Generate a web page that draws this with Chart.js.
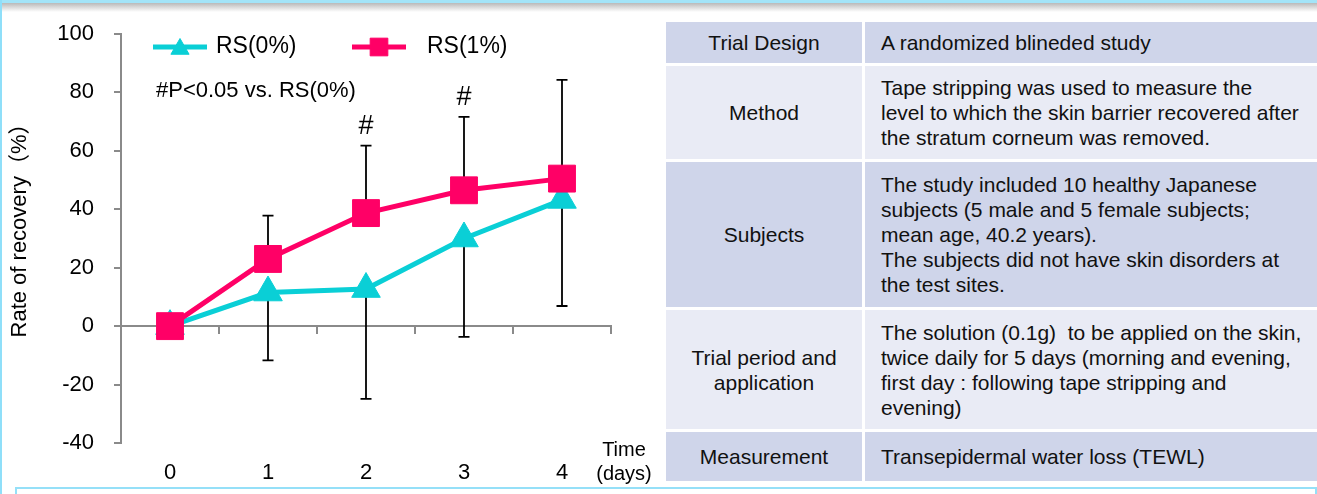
<!DOCTYPE html>
<html>
<head>
<meta charset="utf-8">
<script src="https://cdn.jsdelivr.net/npm/chart.js"></script>
<style>
  html, body { margin: 0; padding: 0; }
  body {
    width: 1317px; height: 494px; overflow: hidden; position: relative;
    background: #fff; font-family: "Liberation Sans", Arial, sans-serif;
  }
  #topband { position: absolute; left: 0; top: 0; width: 1317px; height: 3px; background: #a3e4f8; }
  #shadow { position: absolute; left: 0; top: 3px; width: 1317px; height: 9px;
            background: linear-gradient(#b9b9b9, #fff); }
  #leftline { position: absolute; left: 0; top: 0; width: 2px; height: 494px; background: #8fdff9; }
  #bottombox { position: absolute; left: 15px; top: 487px; width: 1298px; height: 20px;
               border: 2px solid #95e0f8; border-bottom: none; background: #fff; }
  #wrap { position: absolute; left: 0; top: 0; width: 660px; height: 494px; }
  #info { position: absolute; left: 663px; top: 19px; width: 675px; table-layout: fixed;
          border-collapse: separate; border-spacing: 3px;
          font-size: 21px; line-height: 25px; color: #111; }
  #info td { padding: 0; white-space: nowrap; vertical-align: middle; overflow: hidden; }
  #info col.k { width: 196px; }
  #info td.k { text-align: center; }
  #info td.v { padding-left: 16px; text-align: left; }
  #info tr.d td { background: #cfd5ea; }
  #info tr.l td { background: #e9ebf5; }
</style>
</head>
<body>
<div id="topband"></div>
<div id="shadow"></div>
<div id="leftline"></div>

<div id="wrap"><canvas id="recovery" width="660" height="494"></canvas></div>

<table id="info">
  <colgroup><col class="k"><col class="v"></colgroup>
  <tr class="d" style="height:41px"><td class="k">Trial Design</td><td class="v">A randomized blineded study</td></tr>
  <tr class="l" style="height:93px"><td class="k">Method</td><td class="v">Tape stripping was used to measure the<br>level to which the skin barrier recovered after<br>the stratum corneum was removed.</td></tr>
  <tr class="d" style="height:145px"><td class="k">Subjects</td><td class="v">The study included 10 healthy Japanese<br>subjects (5 male and 5 female subjects;<br>mean age, 40.2 years).<br>The subjects did not have skin disorders at<br>the test sites.</td></tr>
  <tr class="l" style="height:119px"><td class="k">Trial period and<br>application</td><td class="v">The solution (0.1g)&nbsp; to be applied on the skin,<br>twice daily for 5 days (morning and evening,<br>first day : following tape stripping and<br>evening)</td></tr>
  <tr class="d" style="height:49px"><td class="k">Measurement</td><td class="v">Transepidermal water loss (TEWL)</td></tr>
</table>

<div id="bottombox"></div>

<script>
// values
const days = ['0', '1', '2', '3', '4'];
const rs0 = [0, 11.5, 12.7, 30.0, 43.2];      // RS(0%)
const rs1 = [0, 23.0, 38.7, 46.5, 50.5];      // RS(1%)
const rs1ErrUp = [0, 14.8, 23.1, 25.1, 33.8];  // upper whisker of RS(1%)
const rs0ErrDown = [0, 23.2, 37.6, 33.7, 36.3]; // lower whisker of RS(0%)
const sigMarks = ['', '', '#', '#', ''];
const yMin = -40, yMax = 100, yStep = 20;

const CYAN = '#0acfd6';
const PINK = '#ff0066';
const AXIS = '#8a8a8a';
const FONT = '"Liberation Sans", Arial, sans-serif';

Chart.defaults.font.family = FONT;
Chart.defaults.color = '#000';

// whiskers and # marks, drawn under the markers
const errorBars = {
    id: 'errorBars',
    beforeDatasetsDraw(chart) {
        const { ctx, scales: { x, y } } = chart;
        ctx.save();
        ctx.strokeStyle = '#000';
        ctx.lineWidth = 1.8;
        days.forEach((d, i) => {
            const px = x.getPixelForValue(i);
            const whiskers = [
                [rs1[i], rs1[i] + rs1ErrUp[i]],
                [rs0[i], rs0[i] - rs0ErrDown[i]]
            ];
            whiskers.forEach(([from, to]) => {
                if (from === to) return;
                const y0 = y.getPixelForValue(from);
                const y1 = y.getPixelForValue(to);
                ctx.beginPath();
                ctx.moveTo(px, y0);
                ctx.lineTo(px, y1);
                ctx.moveTo(px - 5.5, y1);
                ctx.lineTo(px + 5.5, y1);
                ctx.stroke();
            });
            if (sigMarks[i]) {
                ctx.fillStyle = '#000';
                ctx.font = '27px ' + FONT;
                ctx.textAlign = 'center';
                ctx.textBaseline = 'alphabetic';
                ctx.fillText(sigMarks[i], px, y.getPixelForValue(rs1[i] + rs1ErrUp[i]) - 12);
            }
        });
        ctx.restore();
    }
};

// legend, note, axis titles
const extras = {
    id: 'extras',
    afterDraw(chart) {
        const { ctx, chartArea: area } = chart;
        ctx.save();

        // legend: line + marker + label
        const items = [
            { x: area.left + 32, tx: area.left + 95 },
            { x: area.left + 231, tx: area.left + 306 }
        ];
        chart.data.datasets.forEach((ds, i) => {
            const it = items[i];
            const ly = 47;
            ctx.strokeStyle = ds.borderColor;
            ctx.fillStyle = ds.backgroundColor;
            ctx.lineWidth = 5;
            ctx.beginPath();
            ctx.moveTo(it.x, ly);
            ctx.lineTo(it.x + 54, ly);
            ctx.stroke();
            ctx.lineWidth = 1;
            Chart.helpers.drawPoint(ctx, {
                pointStyle: ds.pointStyle,
                rotation: 0,
                radius: ds.pointStyle === 'rect' ? 12.5 : 10.5,
                borderWidth: 1
            }, it.x + 27, ly + (ds.pointStyle === 'rect' ? 0 : 2));
            ctx.fillStyle = '#000';
            ctx.font = '23px ' + FONT;
            ctx.textAlign = 'left';
            ctx.textBaseline = 'middle';
            ctx.fillText(ds.label, it.tx, ly);
        });

        // significance note
        ctx.font = '22px ' + FONT;
        ctx.textAlign = 'left';
        ctx.textBaseline = 'middle';
        ctx.fillText('#P<0.05 vs. RS(0%)', area.left + 35, 91);

        // x axis title
        ctx.font = '20px ' + FONT;
        ctx.textAlign = 'center';
        ctx.fillText('Time', area.right + 13, 450);
        ctx.fillText('(days)', area.right + 13, 474);

        // y axis title
        ctx.translate(20, 225);
        ctx.rotate(-Math.PI / 2);
        ctx.font = '22px "Liberation Sans", Arial, "Noto Sans CJK JP", sans-serif';
        ctx.textAlign = 'center';
        ctx.fillText('Rate of recovery（%）', 0, 0);
        ctx.restore();
    }
};

const ctx = document.getElementById('recovery');

const data = {
    labels: days,
    datasets: [{
        label: 'RS(0%)',
        data: rs0,
        borderColor: CYAN,
        backgroundColor: CYAN,
        borderWidth: 5,
        pointStyle: 'triangle',
        pointRadius: 16.5,
        pointBorderWidth: 1,
        order: 1
    }, {
        label: 'RS(1%)',
        data: rs1,
        borderColor: PINK,
        backgroundColor: PINK,
        borderWidth: 5,
        pointStyle: 'rect',
        pointRadius: 19,
        pointBorderWidth: 1,
        order: 0
    }]
};

const config = {
    type: 'line',
    data: data,
    options: {
        responsive: false,
        animation: false,
        events: [],
        layout: { padding: { top: 34, right: 49, left: 0, bottom: 0 } },
        plugins: {
            legend: { display: false },
            tooltip: { enabled: false }
        },
        scales: {
            x: {
                type: 'category',
                offset: true,
                grid: { display: false, drawTicks: false },
                border: { display: false },
                ticks: { font: { size: 22 }, color: '#000', padding: 17, maxRotation: 0 },
                afterFit: (s) => { s.height = 51; }
            },
            x0: {
                type: 'category',
                labels: days,
                offset: true,
                position: { y: 0 },
                grid: { offset: true, drawOnChartArea: false, tickLength: 7, color: AXIS, lineWidth: 2 },
                border: { color: AXIS, width: 2 },
                ticks: { display: false }
            },
            y: {
                min: yMin,
                max: yMax,
                ticks: { stepSize: yStep, font: { size: 22 }, color: '#000', padding: 20 },
                grid: { drawOnChartArea: false, tickLength: 7, color: AXIS, lineWidth: 2 },
                border: { color: AXIS, width: 2 },
                afterFit: (s) => { s.width = 121; }
            }
        }
    },
    plugins: [errorBars, extras]
};

var recoveryChart = new Chart(ctx, config);
</script>
</body>
</html>
